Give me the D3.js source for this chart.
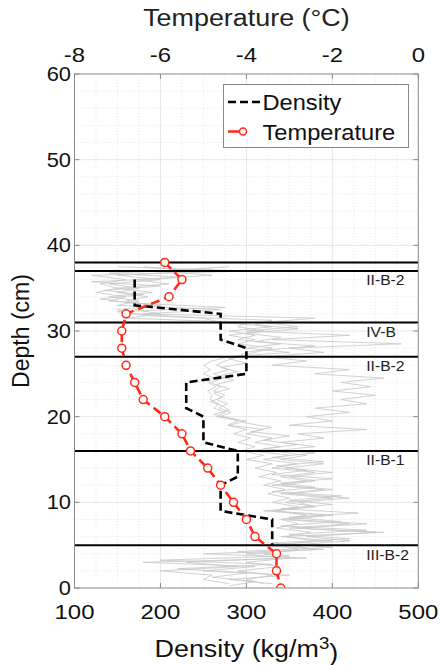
<!DOCTYPE html>
<html>
<head>
<meta charset="utf-8">
<script src="https://d3js.org/d3.v7.min.js"></script>
<style>
  body { margin: 0; background: #fff; }
  text { font-family: "Liberation Sans", Arial, Helvetica, sans-serif; }
</style>
</head>
<body>
<script>
// ---- data ----
// layer boundaries (cm) and stratigraphy labels
var layerDepths = [38, 37, 31, 27, 16, 5];
var layerNames = ["II-B-2", "IV-B", "II-B-2", "II-B-1", "III-B-2"];
var layerNameDepths = [35.9, 29.9, 25.9, 14.9, 3.9];

// layer mean density (stepped profile)
var densDepth = [36, 33, 32, 29, 28, 25, 24, 21, 20, 17, 16, 13, 12, 9, 8, 5];
var densValue = [170, 170, 270, 270, 300, 300, 230, 230, 250, 250, 290, 290, 270, 270, 330, 330];

// temperature profile
var tempDepth = [38, 36, 34, 32, 30, 28, 26, 24, 22, 20, 18, 16, 14, 12, 10, 8, 6, 4, 2, 0];
var tempValue = [-5.9, -5.5, -5.8, -6.8, -6.9, -6.9, -6.8, -6.6, -6.4, -5.9, -5.5, -5.3, -4.9, -4.6, -4.3, -4.0, -3.8, -3.3, -3.3, -3.2];

// SMP density traces (grey): A-C sampled every 0.5 cm from 37.5 cm, D from 37.25 cm
var smpDepth = d3.range(37.5, 0.25, -0.5);
var smpDepthD = d3.range(37.25, 0, -0.5);
var smpA = [180, 240, 150, 200, 140, 175, 150, 185, 160, 190, 170, 200, 160, 300, 290, 320, 280, 310, 290, 330,
            300, 290, 275, 265, 280, 262, 275, 258, 270, 262, 275, 265, 278, 268, 282, 270, 290, 278, 300, 285,
            305, 290, 310, 295, 320, 300, 330, 310, 335, 315, 340, 320, 345, 325, 350, 330, 360, 335, 370, 340,
            360, 335, 375, 345, 380, 340, 360, 320, 350, 300, 340, 290, 330, 300, 320];
var smpB = [280, 200, 260, 170, 210, 150, 190, 140, 175, 150, 270, 180, 380, 320, 360, 300, 420, 330, 480, 350,
            390, 320, 370, 330, 420, 380, 460, 410, 445, 400, 450, 410, 440, 380, 420, 370, 400, 350, 440, 360,
            390, 340, 380, 330, 370, 340, 390, 345, 400, 350, 380, 340, 400, 350, 420, 360, 380, 330, 400, 350,
            440, 360, 450, 370, 420, 350, 380, 300, 340, 230, 290, 200, 260, 250, 280];
var smpC = [150, 300, 120, 160, 130, 150, 125, 160, 140, 200, 150, 170, 250, 270, 330, 280, 310, 290, 340, 300,
            350, 280, 260, 250, 258, 250, 262, 255, 265, 255, 260, 258, 268, 262, 275, 265, 300, 280, 320, 300,
            330, 310, 340, 305, 350, 320, 360, 330, 380, 340, 370, 330, 390, 340, 400, 345, 380, 320, 390, 340,
            420, 350, 460, 340, 400, 310, 390, 250, 370, 180, 310, 250, 350, 280, 330];
var smpD = [260, 140, 230, 120, 200, 135, 180, 130, 170, 275, 150, 190, 330, 310, 360, 300, 340, 310, 380, 320,
            300, 280, 300, 270, 290, 268, 285, 265, 280, 262, 272, 258, 272, 280, 262, 285, 300, 330, 305, 350,
            320, 360, 320, 380, 330, 390, 335, 370, 330, 400, 340, 380, 330, 410, 350, 400, 340, 430, 350, 410,
            340, 440, 350, 420, 330, 400, 290, 350, 200, 330, 220, 300, 260, 310, 280];
var smpTraces = [[smpDepth, smpA], [smpDepth, smpB], [smpDepth, smpC], [smpDepthD, smpD]];

var densTicks = [100, 200, 300, 400, 500];
var tempTicks = [-8, -6, -4, -2, 0];
var depthTicks = [0, 10, 20, 30, 40, 50, 60];

// ---- layout ----
var W = 441, H = 665;
var L = 74.5, R = 418.3, T = 74, B = 588;
var SX = 1.14; // the original figure is a little stretched sideways

var x = d3.scaleLinear().domain([100, 500]).range([L, R]);
var xt = d3.scaleLinear().domain([-8, 0]).range([L, R]);
var y = d3.scaleLinear().domain([0, 60]).range([B, T]);

var svg = d3.select("body").append("svg")
    .attr("width", W)
    .attr("height", H);

function put(px, py, sx) {
  return "translate(" + px + "," + py + ") scale(" + (sx || SX) + ",1)";
}

svg.append("defs").append("clipPath").attr("id", "plotclip")
  .append("rect").attr("x", L).attr("y", T).attr("width", R - L).attr("height", B - T);

// grid
var grid = svg.append("g");
grid.selectAll(".vminor").data(d3.range(125, 500, 25).filter(function (d) { return d % 100 != 0; }))
  .enter().append("line")
    .attr("x1", function (d) { return x(d); }).attr("x2", function (d) { return x(d); })
    .attr("y1", T).attr("y2", B)
    .attr("stroke", "#dcdcdc").attr("stroke-width", 0.7).attr("stroke-dasharray", "1,2");
grid.selectAll(".hminor").data(d3.range(2, 60, 2).filter(function (d) { return d % 10 != 0; }))
  .enter().append("line")
    .attr("y1", function (d) { return y(d); }).attr("y2", function (d) { return y(d); })
    .attr("x1", L).attr("x2", R)
    .attr("stroke", "#dcdcdc").attr("stroke-width", 0.7).attr("stroke-dasharray", "1,2");
grid.selectAll(".vmajor").data(densTicks.slice(1, -1))
  .enter().append("line")
    .attr("x1", function (d) { return x(d); }).attr("x2", function (d) { return x(d); })
    .attr("y1", T).attr("y2", B)
    .attr("stroke", "#e6e6e6").attr("stroke-width", 1);
grid.selectAll(".hmajor").data(depthTicks.slice(1, -1))
  .enter().append("line")
    .attr("y1", function (d) { return y(d); }).attr("y2", function (d) { return y(d); })
    .attr("x1", L).attr("x2", R)
    .attr("stroke", "#e6e6e6").attr("stroke-width", 1);

var plot = svg.append("g").attr("clip-path", "url(#plotclip)");

// grey SMP traces
var smpLine = d3.line()
    .x(function (d) { return x(d[1]); })
    .y(function (d) { return y(d[0]); });
smpTraces.forEach(function (tr) {
  plot.append("path")
    .datum(d3.zip(tr[0], tr[1]))
    .attr("d", smpLine)
    .attr("fill", "none")
    .attr("stroke", "#c6c6c6")
    .attr("stroke-width", 0.8);
});

// layer boundaries
plot.selectAll(".layer").data(layerDepths)
  .enter().append("line")
    .attr("x1", L).attr("x2", R)
    .attr("y1", function (d) { return y(d); }).attr("y2", function (d) { return y(d); })
    .attr("stroke", "#000").attr("stroke-width", 2);

svg.selectAll(".lname").data(layerNames)
  .enter().append("text")
    .attr("transform", function (d, i) { return put(x(440) - 0.5, y(layerNameDepths[i]) + 5, 1.12); })
    .style("font-size", "14px")
    .style("fill", "#222")
    .text(function (d) { return d; });

// density step profile
var densLine = d3.line()
    .x(function (d) { return x(d[1]); })
    .y(function (d) { return y(d[0]); });
plot.append("path")
  .datum(d3.zip(densDepth, densValue))
  .attr("d", densLine)
  .attr("fill", "none")
  .attr("stroke", "#000")
  .attr("stroke-width", 2.6)
  .attr("stroke-dasharray", "8,4");

// temperature
var red = "#ff2b17";
var tempLine = d3.line()
    .x(function (d) { return xt(d[1]); })
    .y(function (d) { return y(d[0]); });
var tempPts = d3.zip(tempDepth, tempValue);
plot.append("path")
  .datum(tempPts)
  .attr("d", tempLine)
  .attr("fill", "none")
  .attr("stroke", red)
  .attr("stroke-width", 2.6)
  .attr("stroke-dasharray", "9,5");
plot.selectAll(".tpt").data(tempPts)
  .enter().append("circle")
    .attr("cx", function (d) { return xt(d[1]); })
    .attr("cy", function (d) { return y(d[0]); })
    .attr("r", 4)
    .attr("fill", "#fff")
    .attr("stroke", red)
    .attr("stroke-width", 1.5);

// axes box and ticks
var axc = "#8a8a8a";
svg.append("rect")
  .attr("x", L).attr("y", T).attr("width", R - L).attr("height", B - T)
  .attr("fill", "none").attr("stroke", axc).attr("stroke-width", 1);

var tk = 5;
depthTicks.forEach(function (d) {
  svg.append("line").attr("x1", L).attr("x2", L + tk).attr("y1", y(d)).attr("y2", y(d)).attr("stroke", axc);
  svg.append("line").attr("x1", R).attr("x2", R - tk).attr("y1", y(d)).attr("y2", y(d)).attr("stroke", axc);
});
densTicks.forEach(function (d) {
  svg.append("line").attr("x1", x(d)).attr("x2", x(d)).attr("y1", B).attr("y2", B - tk).attr("stroke", axc);
});
tempTicks.forEach(function (d) {
  svg.append("line").attr("x1", xt(d)).attr("x2", xt(d)).attr("y1", T).attr("y2", T + tk).attr("stroke", axc);
});

var tickFont = "21px";
svg.selectAll(".ylab").data(depthTicks)
  .enter().append("text")
    .attr("transform", function (d) { return put(L - 3.5, y(d) + 7, 1.04); })
    .attr("text-anchor", "end")
    .style("font-size", tickFont)
    .style("fill", "#111")
    .text(function (d) { return d; });
svg.selectAll(".xlab").data(densTicks)
  .enter().append("text")
    .attr("transform", function (d) { return put(x(d), 619); })
    .attr("text-anchor", "middle")
    .style("font-size", tickFont)
    .style("fill", "#111")
    .text(function (d) { return d; });
svg.selectAll(".tlab").data(tempTicks)
  .enter().append("text")
    .attr("transform", function (d) { return put(xt(d), 61.5); })
    .attr("text-anchor", "middle")
    .style("font-size", tickFont)
    .style("fill", "#111")
    .text(function (d) { return d; });

// axis titles
svg.append("text")
  .attr("transform", put((L + R) / 2, 26, 1.17))
  .attr("text-anchor", "middle")
  .style("font-size", "23px").style("fill", "#222")
  .text("Temperature (°C)");

var dt = svg.append("text")
  .attr("transform", put((L + R) / 2, 657, 1.17))
  .attr("text-anchor", "middle")
  .style("font-size", "23px").style("fill", "#111");
dt.append("tspan").text("Density (kg/m");
dt.append("tspan").attr("dy", "-0.5em").style("font-size", "16px").text("3");
dt.append("tspan").attr("dy", "0.5em").text(")");

svg.append("text")
  .attr("transform", "translate(29," + ((T + B) / 2) + ") rotate(-90)")
  .attr("text-anchor", "middle")
  .style("font-size", "23px").style("fill", "#111")
  .text("Depth (cm)");

// legend
var lg = svg.append("g");
lg.append("rect")
  .attr("x", 223.5).attr("y", 84.5).attr("width", 185).attr("height", 63)
  .attr("fill", "#fff").attr("stroke", "#8a8a8a").attr("stroke-width", 1);
lg.append("line")
  .attr("x1", 228).attr("x2", 260).attr("y1", 102).attr("y2", 102)
  .attr("stroke", "#000").attr("stroke-width", 2.6).attr("stroke-dasharray", "8,4");
lg.append("text").attr("transform", put(262.5, 109.5, 1.1))
  .style("font-size", "21.5px").style("fill", "#111").text("Density");
lg.append("line")
  .attr("x1", 228).attr("x2", 260).attr("y1", 131.5).attr("y2", 131.5)
  .attr("stroke", red).attr("stroke-width", 2.6).attr("stroke-dasharray", "11,3,5,20");
lg.append("circle").attr("cx", 243).attr("cy", 131.5).attr("r", 3.5)
  .attr("fill", "#fff").attr("stroke", red).attr("stroke-width", 1.5);
lg.append("text").attr("transform", put(262.5, 139.5, 1.1))
  .style("font-size", "21.5px").style("fill", "#111").text("Temperature");
</script>
</body>
</html>
